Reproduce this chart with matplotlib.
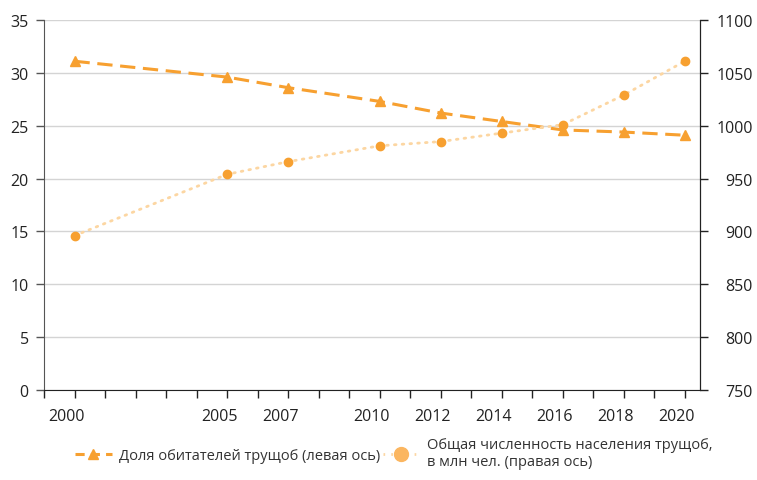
import matplotlib
matplotlib.use('Agg')
import matplotlib.pyplot as plt
import matplotlib.transforms as mtransforms
from matplotlib.lines import Line2D

# Data
years = [2000, 2005, 2007, 2010, 2012, 2014, 2016, 2018, 2020]
share = [31.1, 29.6, 28.6, 27.3, 26.2, 25.4, 24.6, 24.4, 24.1]  # left axis, %
population = [896, 954, 966, 981, 985, 993, 1001, 1029, 1061]  # right axis, mln
year_labels = ['2000', '2005', '2007', '2010', '2012', '2014', '2016', '2018', '2020']
left_ticks = [0, 5, 10, 15, 20, 25, 30, 35]
right_ticks = [750, 800, 850, 900, 950, 1000, 1050, 1100]
label_share = 'Доля обитателей трущоб (левая ось)'
label_pop = 'Общая численность населения трущоб,\nв млн чел. (правая ось)'

ORANGE = '#F7A030'
LIGHT = '#FCD6A2'

plt.rcParams['font.family'] = ['Open Sans', 'DejaVu Sans']
plt.rcParams['font.size'] = 11.5

fig = plt.figure(figsize=(7.57, 4.81), dpi=100)
ax = fig.add_axes([44 / 757, 1 - 391 / 481, 656 / 757, 370 / 481])
ax2 = ax.twinx()

ax.set_xlim(1999, 2020.5)
ax.set_ylim(0, 35)
ax2.set_ylim(750, 1100)

ax.set_yticks(left_ticks)
ax2.set_yticks(right_ticks)
ax.set_xticks(range(1999, 2021), minor=True)
ax.set_xticks(years)
ax.set_xticklabels(year_labels)

ax.grid(axis='y', color='#d4d4d4', linewidth=1)
ax.set_axisbelow(True)

ax.plot(years, share, color=ORANGE, linewidth=2.2, dashes=(5, 2.5),
        marker='^', markersize=7.5, zorder=3)
ax2.plot(years, population, color=LIGHT, linewidth=2, linestyle=(0, (0.6, 2.2)),
         dash_capstyle='round', zorder=2)
ax2.plot(years, population, linestyle='none', marker='o', markersize=6,
         color=ORANGE, zorder=3)

for a in (ax, ax2):
    a.spines['top'].set_visible(False)
ax.spines['left'].set_color('#555555')
ax.spines['bottom'].set_color('#222222')
ax2.spines['right'].set_color('#222222')
ax2.spines['left'].set_visible(False)
ax2.spines['bottom'].set_visible(False)

ax.tick_params(axis='y', length=6, width=1, color='#555555', pad=5, labelcolor='#222222')
ax.tick_params(axis='x', which='both', length=6, width=1, color='#222222',
               pad=7, labelcolor='#222222')
ax2.tick_params(axis='y', length=6, width=1, color='#222222', pad=32, labelcolor='#222222')
for lab in ax2.get_yticklabels():
    lab.set_horizontalalignment('right')

# year labels sit a little left of their ticks in the original
shift = mtransforms.ScaledTranslation(-8 / 100, 0, fig.dpi_scale_trans)
for lab in ax.get_xticklabels():
    lab.set_transform(lab.get_transform() + shift)

handles = [
    Line2D([], [], color=ORANGE, linewidth=2.2, dashes=(3, 2), marker='^', markersize=7.5),
    Line2D([], [], color=LIGHT, linewidth=2, linestyle=(0, (0.6, 2.2)),
           marker='o', markersize=10, markerfacecolor='#FBB660', markeredgecolor='#FBB660'),
]
fig.legend(handles, [label_share, label_pop], loc='lower center', ncol=2,
           bbox_to_anchor=(0.52, -0.005), frameon=False, handlelength=2.5,
           handletextpad=0.5, columnspacing=0.2, labelcolor='#333333', fontsize=10.5)

fig.savefig('out.png', dpi=100)
